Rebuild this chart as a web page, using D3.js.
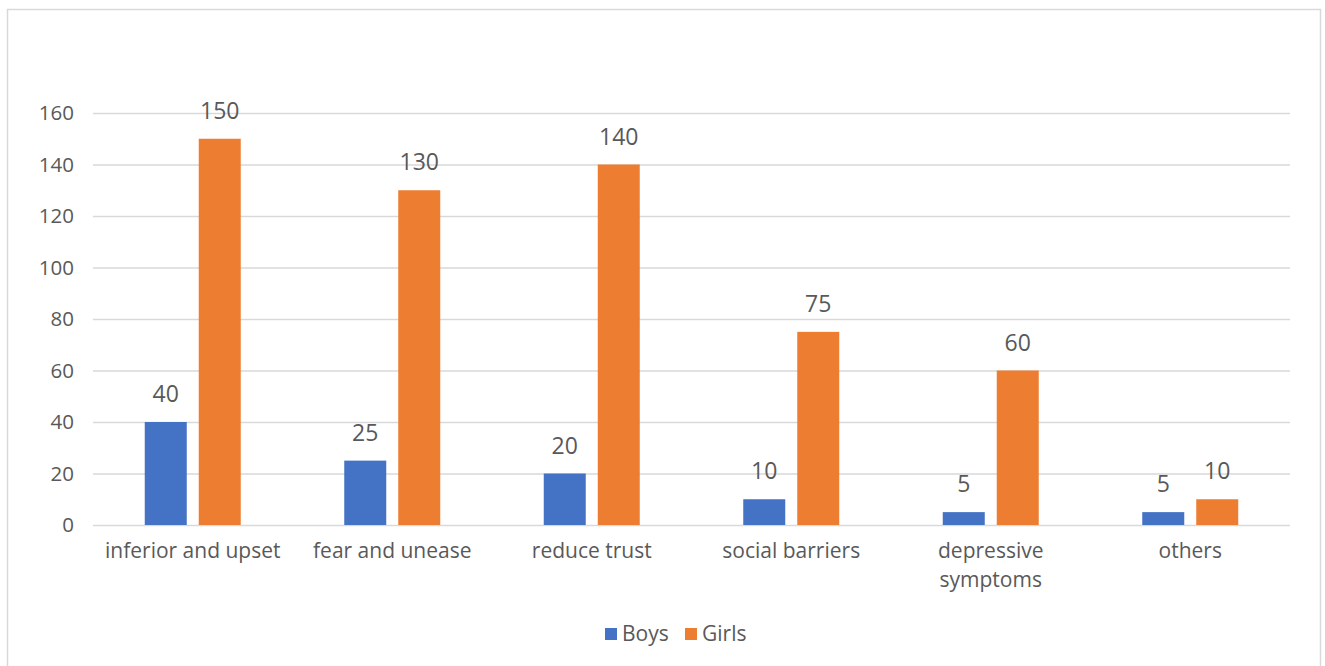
<!DOCTYPE html>
<html>
<head>
<meta charset="utf-8">
<script src="https://cdn.jsdelivr.net/npm/d3@7"></script>
<style>
  body { margin: 0; background: #fff; }
  text { font-family: "Open Sans", "Noto Sans", sans-serif; fill: #595959; }
</style>
</head>
<body>
<div id="chart"></div>
<script>
var svgWidth = 1325;
var svgHeight = 666;

// chart data
var categories = ["inferior and upset", "fear and unease", "reduce trust", "social barriers", "depressive symptoms", "others"];
var seriesNames = ["Boys", "Girls"];
var boys = [40, 25, 20, 10, 5, 5];
var girls = [150, 130, 140, 75, 60, 10];
var yTicks = [0, 20, 40, 60, 80, 100, 120, 140, 160];
var colors = ["#4472C4", "#ED7D31"];

var margin = { top: 113, right: 35, bottom: 141, left: 93 };
var width = svgWidth - margin.left - margin.right;
var height = svgHeight - margin.top - margin.bottom;

var svg = d3.select("#chart")
    .append("svg")
    .attr("width", svgWidth)
    .attr("height", svgHeight);

// outer frame
svg.append("rect")
    .attr("x", 7.5).attr("y", 9.5)
    .attr("width", 1313).attr("height", 660)
    .attr("fill", "none")
    .attr("stroke", "#D9D9D9")
    .attr("stroke-width", 1.5);

var chartGroup = svg.append("g")
    .attr("transform", `translate(${margin.left}, ${margin.top})`);

var xScale = d3.scaleBand()
    .domain(categories)
    .range([0, width]);

var yScale = d3.scaleLinear()
    .domain([0, 160])
    .range([height, 0]);

// gridlines + y labels
var leftAxis = d3.axisLeft(yScale)
    .tickValues(yTicks)
    .tickSize(-width)
    .tickPadding(19);

var yAxisG = chartGroup.append("g").call(leftAxis);
yAxisG.select(".domain").remove();
yAxisG.selectAll("line").attr("stroke", "#D9D9D9").attr("stroke-width", 1.5);
yAxisG.selectAll("text")
    .style("font-size", "20.5px")
    .attr("fill", "#595959");

// grouped bars
var barW = 42, gap = 12;
var series = [boys, girls];
series.forEach(function (vals, si) {
    var offset = si === 0 ? -(gap / 2 + barW) : gap / 2;
    var g = chartGroup.append("g");
    g.selectAll("rect")
        .data(vals)
        .enter()
        .append("rect")
        .attr("x", (d, i) => xScale(categories[i]) + xScale.bandwidth() / 2 + offset)
        .attr("y", d => yScale(d))
        .attr("width", barW)
        .attr("height", d => height - yScale(d))
        .attr("fill", colors[si]);
    g.selectAll("text")
        .data(vals)
        .enter()
        .append("text")
        .attr("x", (d, i) => xScale(categories[i]) + xScale.bandwidth() / 2 + offset + barW / 2)
        .attr("y", d => yScale(d) - 20)
        .attr("text-anchor", "middle")
        .style("font-size", "23px")
        .text(d => d);
});

// category labels (wrap "depressive symptoms" onto two lines)
var catLines = [];
categories.forEach(function (c) {
    var parts = c === "depressive symptoms" ? ["depressive", "symptoms"] : [c];
    parts.forEach(function (p, i) { catLines.push({ cat: c, text: p, line: i }); });
});

chartGroup.selectAll("text.cat")
    .data(catLines)
    .enter()
    .append("text")
    .attr("class", "cat")
    .attr("text-anchor", "middle")
    .style("font-size", "21px")
    .attr("x", d => xScale(d.cat) + xScale.bandwidth() / 2)
    .attr("y", d => height + 33 + d.line * 29)
    .text(d => d.text);

// legend
var legend = svg.append("g").attr("transform", "translate(605, 628)");
var legendX = [0, 80];
seriesNames.forEach(function (name, i) {
    legend.append("rect")
        .attr("x", legendX[i]).attr("y", 0)
        .attr("width", 12).attr("height", 12)
        .attr("fill", colors[i]);
    legend.append("text")
        .attr("x", legendX[i] + 17).attr("y", 13)
        .style("font-size", "21px")
        .text(name);
});
</script>
</body>
</html>
